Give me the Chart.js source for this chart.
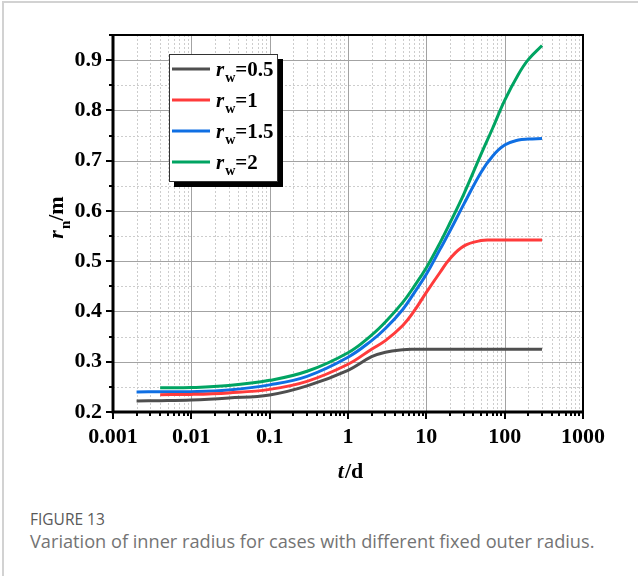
<!DOCTYPE html>
<html>
<head>
<meta charset="utf-8">
<script src="https://cdn.jsdelivr.net/npm/chart.js@4/dist/chart.umd.min.js"></script>
<style>
  body { margin: 0; background: #fff; width: 638px; height: 576px; overflow: hidden; position: relative; }
  #frame { position: absolute; left: 2px; top: 1px; width: 700px; height: 700px;
           border-left: 2px solid #d2d2d2; border-top: 2px solid #d2d2d2; }
  #chart { position: absolute; left: 0; top: 0; }
  #caption { position: absolute; left: 30px; top: 508px; font-family: "Open Sans", sans-serif; }
  #caption .num { font-size: 15.5px; color: #595959; }
  #caption .txt { font-size: 18.2px; color: #747474; margin-top: -1px; }
</style>
</head>
<body>
<div id="frame"></div>
<canvas id="chart" width="638" height="490"></canvas>
<div id="caption">
  <div class="num">FIGURE 13</div>
  <div class="txt">Variation of inner radius for cases with different fixed outer radius.</div>
</div>
<script>
// time points, days
const tDays = [0.002, 0.004, 0.01, 0.03, 0.1, 0.3, 1, 2, 3, 5, 7, 10, 15, 20, 30, 50, 70, 100, 150, 200, 300]

// inner radius r_n (m) for each fixed outer radius r_w
const rn05 = [0.222, 0.2225, 0.224, 0.228, 0.234, 0.252, 0.283, 0.310, 0.319, 0.324, 0.325, 0.325, 0.325, 0.325, 0.325, 0.325, 0.325, 0.325, 0.325, 0.325, 0.325]
const rn1  = [null, 0.2345, 0.235, 0.238, 0.245, 0.261, 0.295, 0.325, 0.342, 0.372, 0.401, 0.438, 0.478, 0.505, 0.530, 0.541, 0.542, 0.542, 0.542, 0.542, 0.542]
const rn15 = [0.240, 0.2402, 0.2405, 0.244, 0.254, 0.271, 0.309, 0.342, 0.366, 0.404, 0.437, 0.474, 0.524, 0.560, 0.613, 0.677, 0.709, 0.731, 0.741, 0.743, 0.744]
const rn2  = [null, 0.248, 0.2485, 0.2525, 0.263, 0.281, 0.318, 0.353, 0.379, 0.418, 0.450, 0.487, 0.537, 0.576, 0.633, 0.713, 0.764, 0.820, 0.872, 0.901, 0.929]

const rwValues = ['0.5', '1', '1.5', '2']
const seriesColors = ['#4f4f4f', '#ff3b3b', '#0f6fe3', '#00a462']

const xTickLabels = ['0.001', '0.01', '0.1', '1', '10', '100', '1000']
const yTickLabels = ['0.2', '0.3', '0.4', '0.5', '0.6', '0.7', '0.8', '0.9']

const serif = '"Liberation Serif", "Times New Roman", serif'

// log x ticks: decades plus 2..9 in between
const xTicks = []
xTickLabels.forEach((lab, i) => {
    const dec = Number(lab)
    xTicks.push(dec)
    if (i < xTickLabels.length - 1) {
        for (let k = 2; k <= 9; k++) xTicks.push(Number((dec * k).toPrecision(3)))
    }
})
// y ticks every 0.05, labelled every 0.1
const yTicks = []
for (let v = 20; v <= 95; v += 5) yTicks.push(v / 100)

const isDecade = v => Math.abs(Math.log10(v) - Math.round(Math.log10(v))) < 1e-9
const isTenth = v => Math.abs(v * 10 - Math.round(v * 10)) < 1e-6

function toPoints(vals) {
    return tDays.map((t, i) => ({ x: t, y: vals[i] }))
}

// grid, tick marks and frame in the Origin style
const frameGrid = {
    id: 'frameGrid',
    beforeDatasetsDraw(chart) {
        const { ctx, chartArea: a, scales: { x, y } } = chart
        ctx.save()
        ctx.lineWidth = 1
        // minor grid, dotted
        ctx.strokeStyle = '#cdcdcd'
        ctx.setLineDash([2, 2])
        ctx.beginPath()
        xTicks.filter(v => !isDecade(v)).forEach(v => {
            const px = Math.round(x.getPixelForValue(v)) + 0.5
            ctx.moveTo(px, a.top); ctx.lineTo(px, a.bottom)
        })
        yTicks.filter(v => !isTenth(v)).forEach(v => {
            const py = Math.round(y.getPixelForValue(v)) + 0.5
            ctx.moveTo(a.left, py); ctx.lineTo(a.right, py)
        })
        ctx.stroke()
        // major grid, solid
        ctx.setLineDash([])
        ctx.strokeStyle = '#a3a3a3'
        ctx.beginPath()
        xTickLabels.forEach(l => {
            const px = Math.round(x.getPixelForValue(Number(l))) + 0.5
            ctx.moveTo(px, a.top); ctx.lineTo(px, a.bottom)
        })
        yTickLabels.forEach(l => {
            const py = Math.round(y.getPixelForValue(Number(l))) + 0.5
            ctx.moveTo(a.left, py); ctx.lineTo(a.right, py)
        })
        ctx.stroke()
        ctx.restore()
    },
    afterDatasetsDraw(chart) {
        const { ctx, chartArea: a, scales: { x, y } } = chart
        ctx.save()
        ctx.strokeStyle = '#000'
        // outward tick marks
        ctx.lineWidth = 2
        ctx.beginPath()
        xTicks.forEach(v => {
            const px = Math.round(x.getPixelForValue(v))
            ctx.moveTo(px, a.bottom); ctx.lineTo(px, a.bottom + (isDecade(v) ? 7 : 4))
        })
        yTicks.forEach(v => {
            const py = Math.round(y.getPixelForValue(v))
            ctx.moveTo(a.left, py); ctx.lineTo(a.left - (isTenth(v) ? 7 : 4), py)
        })
        ctx.stroke()
        // top and right edges
        ctx.lineWidth = 2
        ctx.beginPath()
        ctx.moveTo(a.left, a.top); ctx.lineTo(a.right, a.top); ctx.lineTo(a.right, a.bottom)
        ctx.stroke()
        // left and bottom axes
        ctx.lineWidth = 3
        ctx.beginPath()
        ctx.moveTo(a.left, a.top - 1); ctx.lineTo(a.left, a.bottom); ctx.lineTo(a.right + 1, a.bottom)
        ctx.stroke()
        ctx.restore()
    }
}

// text pieces: [string, style] with style 'i' italic, 's' subscript, '' plain
function pieceFont(style, size) {
    if (style === 'i') return `italic bold ${size}px ${serif}`
    if (style === 's') return `bold ${Math.round(size * 0.68)}px ${serif}`
    return `bold ${size}px ${serif}`
}
function richWidth(ctx, pieces, size) {
    let w = 0
    pieces.forEach(([s, st]) => { ctx.font = pieceFont(st, size); w += ctx.measureText(s).width })
    return w
}
function drawRich(ctx, pieces, x, baseline, size) {
    ctx.textAlign = 'left'
    ctx.textBaseline = 'alphabetic'
    pieces.forEach(([s, st]) => {
        ctx.font = pieceFont(st, size)
        ctx.fillText(s, x, baseline + (st === 's' ? size * 0.3 : 0))
        x += ctx.measureText(s).width + (st === 'i' ? 1 : 0)
    })
}

const titlesAndLegend = {
    id: 'titlesAndLegend',
    afterDraw(chart) {
        const { ctx, chartArea: a } = chart
        ctx.save()
        ctx.fillStyle = '#000'
        // x axis title
        const xt = [['t', 'i'], ['/d', '']]
        drawRich(ctx, xt, (a.left + a.right) / 2 - richWidth(ctx, xt, 22) / 2 + 2, 478, 22)
        // y axis title, rotated
        const yt = [['r', 'i'], ['n', 's'], ['/m', '']]
        ctx.save()
        ctx.translate(63, 218)
        ctx.rotate(-Math.PI / 2)
        drawRich(ctx, yt, -richWidth(ctx, yt, 22) / 2, 0, 22)
        ctx.restore()

        // legend box with drop shadow
        const bx = 169, by = 54, bw = 108, bh = 127
        ctx.fillStyle = '#000'
        ctx.fillRect(bx + 5, by + 5, bw + 1, bh + 1)
        ctx.fillStyle = '#fff'
        ctx.fillRect(bx, by, bw, bh)
        ctx.strokeStyle = '#333'
        ctx.lineWidth = 1
        ctx.strokeRect(bx + 0.5, by + 0.5, bw, bh)
        chart.data.datasets.forEach((ds, i) => {
            const ly = by + 15 + i * 31
            ctx.strokeStyle = ds.borderColor
            ctx.lineWidth = 3
            ctx.beginPath()
            ctx.moveTo(bx + 3, ly); ctx.lineTo(bx + 41, ly)
            ctx.stroke()
            ctx.fillStyle = '#000'
            drawRich(ctx, [['r', 'i'], ['w', 's'], ['=' + rwValues[i], '']], bx + 47, ly + 7, 21)
        })
        ctx.restore()
    }
}

const datasets = [rn05, rn1, rn15, rn2].map((vals, i) => ({
    label: 'r_w=' + rwValues[i],
    data: toPoints(vals),
    borderColor: seriesColors[i],
    backgroundColor: seriesColors[i],
    borderWidth: 3,
    pointRadius: 0,
    tension: 0.4,
    spanGaps: false
}))

const ctx = document.getElementById('chart').getContext('2d')
new Chart(ctx, {
    type: 'line',
    data: { datasets },
    options: {
        responsive: false,
        animation: false,
        devicePixelRatio: 1,
        layout: { padding: { top: 35, right: 55, left: 0, bottom: 0 } },
        plugins: { legend: { display: false }, tooltip: { enabled: false } },
        scales: {
            x: {
                type: 'logarithmic',
                min: 0.001,
                max: 1000,
                afterBuildTicks: s => { s.ticks = xTicks.map(v => ({ value: v, major: isDecade(v) })) },
                afterFit: s => { s.height = 78 },
                grid: { display: false, drawTicks: false },
                border: { display: false },
                ticks: {
                    autoSkip: false,
                    maxRotation: 0,
                    padding: 12,
                    color: '#000',
                    font: { family: serif, size: 22, weight: 'bold' },
                    callback: v => isDecade(v) ? xTickLabels[Math.round(Math.log10(v)) + 3] : ''
                }
            },
            y: {
                type: 'linear',
                min: 0.2,
                max: 0.95,
                afterBuildTicks: s => { s.ticks = yTicks.map(v => ({ value: v })) },
                afterFit: s => { s.width = 113 },
                grid: { display: false, drawTicks: false },
                border: { display: false },
                ticks: {
                    autoSkip: false,
                    padding: 11,
                    color: '#000',
                    font: { family: serif, size: 22, weight: 'bold' },
                    callback: v => isTenth(v) ? yTickLabels[Math.round(v * 10) - 2] : ''
                }
            }
        }
    },
    plugins: [frameGrid, titlesAndLegend]
})
</script>
</body>
</html>
